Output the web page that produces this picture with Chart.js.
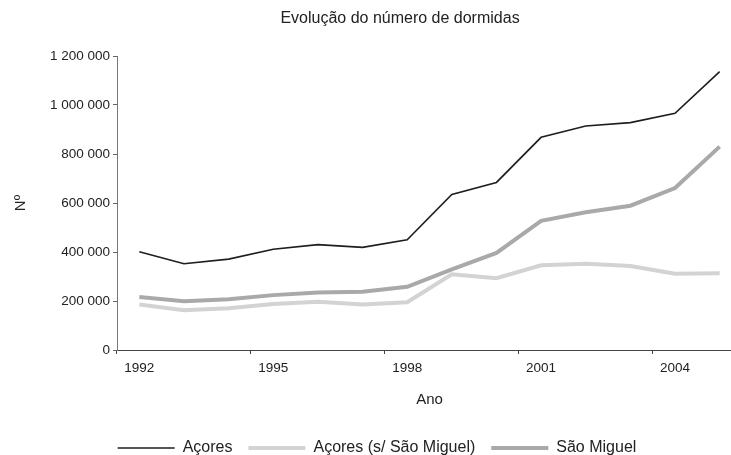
<!DOCTYPE html>
<html>
<head>
<meta charset="utf-8">
<script src="https://cdn.jsdelivr.net/npm/chart.js@4/dist/chart.umd.min.js"></script>
<style>
    html, body { margin: 0; padding: 0; background: #fff; overflow: hidden; }
    #wrap { width: 742px; height: 466px; }
</style>
</head>
<body>
<div id="wrap"><canvas id="chart"></canvas></div>
<script>
// Evolução do número de dormidas (Açores, 1992-2005)
const anos = ['1992', '1993', '1994', '1995', '1996', '1997', '1998',
              '1999', '2000', '2001', '2002', '2003', '2004', '2005'];

const acores = [401000, 352000, 371000, 411000, 430000, 419000, 450000,
                635000, 684000, 868000, 914000, 928000, 966000, 1136000];
const acoresSemSM = [186000, 162000, 170000, 188000, 197000, 186000, 195000,
                     309000, 293000, 346000, 352000, 343000, 311000, 313000];
const saoMiguel = [216000, 199000, 207000, 224000, 235000, 238000, 258000,
                   329000, 396000, 527000, 562000, 589000, 661000, 830000];

const yTicks = [0, 200000, 400000, 600000, 800000, 1000000, 1200000];

const titulo = 'Evolução do número de dormidas';
const fonte = 'Liberation Sans, Arial, sans-serif';
const corTexto = '#222';

// thousands with a space, like "1 200 000"
function formatNum(v) {
    return String(v).replace(/\B(?=(\d{3})+(?!\d))/g, ' ');
}

// the title sits a bit right of the canvas centre in the original
const titlePlugin = {
    id: 'tituloGrafico',
    afterDraw(chart) {
        const ctx = chart.ctx;
        ctx.save();
        ctx.font = '16px ' + fonte;
        ctx.fillStyle = corTexto;
        ctx.textAlign = 'center';
        ctx.textBaseline = 'middle';
        ctx.fillText(titulo, chart.width / 2 + 29, 19);
        ctx.restore();
    }
};

const ctx = document.getElementById('chart').getContext('2d');
new Chart(ctx, {
    type: 'line',
    data: {
        labels: anos,
        datasets: [
            { label: 'Açores', data: acores, borderColor: '#1e1e1e', borderWidth: 1.6 },
            { label: 'Açores (s/ São Miguel)', data: acoresSemSM, borderColor: '#d3d3d3', borderWidth: 4 },
            { label: 'São Miguel', data: saoMiguel, borderColor: '#a9a9a9', borderWidth: 4 }
        ]
    },
    options: {
        responsive: true,
        maintainAspectRatio: false,
        animation: false,
        layout: { padding: { top: 56, left: 12, right: 0, bottom: 0 } },
        elements: {
            line: { tension: 0, fill: false, borderCapStyle: 'butt', borderJoinStyle: 'miter' },
            point: { radius: 0, hoverRadius: 0 }
        },
        plugins: {
            title: { display: false },
            tooltip: { enabled: false },
            legend: {
                position: 'bottom',
                labels: {
                    usePointStyle: true,
                    pointStyle: 'line',
                    pointStyleWidth: 57,
                    padding: 16,
                    color: corTexto,
                    font: { family: fonte, size: 16 }
                }
            }
        },
        scales: {
            x: {
                offset: true,
                grid: {
                    offset: true,
                    drawOnChartArea: false,
                    tickLength: 4,
                    tickColor: c => (c.index % 3 === 0 ? '#444' : 'transparent')
                },
                border: { color: '#444', width: 1 },
                ticks: {
                    autoSkip: false,
                    maxRotation: 0,
                    padding: 6,
                    color: corTexto,
                    font: { family: fonte, size: 13.5 },
                    callback: (v, i) => (i % 3 === 0 ? anos[i] : '')
                },
                title: {
                    display: true,
                    text: 'Ano',
                    color: corTexto,
                    font: { family: fonte, size: 15 },
                    padding: { top: 0, bottom: 15 }
                },
                afterFit: s => { s.height = 74; }
            },
            y: {
                min: 0,
                max: 1200000,
                afterBuildTicks: s => { s.ticks = yTicks.map(v => ({ value: v })); },
                grid: { drawOnChartArea: false, tickLength: 4, tickColor: '#666' },
                border: { color: '#777', width: 1 },
                ticks: {
                    padding: 3,
                    color: corTexto,
                    font: { family: fonte, size: 13.5 },
                    callback: v => formatNum(v)
                },
                title: {
                    display: true,
                    text: 'Nº',
                    color: corTexto,
                    font: { family: fonte, size: 15 },
                    padding: { top: 0, bottom: 0 }
                },
                afterFit: s => { s.width = 105; }
            }
        }
    },
    plugins: [titlePlugin]
});
</script>
</body>
</html>
